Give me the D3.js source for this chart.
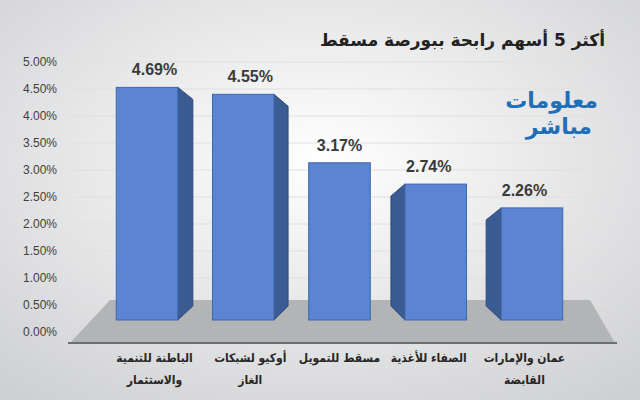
<!DOCTYPE html>
<html><head><meta charset="utf-8">
<script src="https://cdn.jsdelivr.net/npm/d3@7"></script>
<style>body{margin:0}svg{display:block}</style></head>
<body><svg id="c" width="640" height="400"></svg>
<script>
const categories=["الباطنة للتنمية|والاستثمار","أوكيو لشبكات|الغاز","مسقط للتمويل","الصفاء للأغذية","عمان والإمارات|القابضة"];
const values=[4.69,4.55,3.17,2.74,2.26];
const ticks=[0,0.5,1,1.5,2,2.5,3,3.5,4,4.5,5];
const svg=d3.select("#c");
const defs=svg.append("defs");
const g=defs.append("radialGradient").attr("id","bg").attr("cx","50%").attr("cy","40%").attr("r","75%");
g.append("stop").attr("offset","0%").attr("stop-color","#ffffff");
g.append("stop").attr("offset","100%").attr("stop-color","#cfd0d2");
svg.append("rect").attr("width",640).attr("height",400).attr("fill","url(#bg)");
const y=d3.scaleLinear().domain([0,5]).range([332,62]);
const yb=d3.scaleLinear().domain([0,5]).range([320,72]);
const x=d3.scaleBand().domain(d3.range(5)).range([95,580]).paddingInner(0.36).paddingOuter(0.2);
svg.append("g").selectAll("line").data(ticks.slice(1)).join("line")
 .attr("x1",70).attr("x2",610).attr("y1",d=>y(d)).attr("y2",d=>y(d))
 .attr("stroke","#e0e0e0").attr("stroke-width",1);
svg.append("polygon").attr("points","110,300 590,300 615,343 70,343").attr("fill","#b3b4b6");
svg.append("line").attr("x1",68).attr("x2",617).attr("y1",343).attr("y2",343).attr("stroke","#6d6e70").attr("stroke-width",2);
svg.append("g").selectAll("text").data(ticks).join("text")
 .attr("x",57).attr("y",d=>y(d)+4).attr("text-anchor","end")
 .attr("font-family","Liberation Sans, Arial").attr("font-size",12).attr("fill","#404040")
 .text(d=>d.toFixed(2)+"%");
const sides=[15,14,0,-14,-15];
const bars=svg.append("g");
values.forEach((v,i)=>{
 const x0=x(i)+2,w=x.bandwidth(),t=yb(v),b=320,s=sides[i];
 if(s>0) bars.append("polygon").attr("points",`${x0+w},${t} ${x0+w+s},${t+12} ${x0+w+s},${b-14} ${x0+w},${b}`).attr("fill","#3b5b93").attr("stroke","#2e4a7d");
 if(s<0) bars.append("polygon").attr("points",`${x0},${t} ${x0+s},${t+12} ${x0+s},${b-14} ${x0},${b}`).attr("fill","#3b5b93").attr("stroke","#2e4a7d");
 bars.append("rect").attr("x",x0).attr("y",t).attr("width",w).attr("height",b-t).attr("fill","#5b85d0").attr("stroke","#3f66ad");
 bars.append("text").attr("x",x0+w/2+s/2).attr("y",t-12).attr("text-anchor","middle")
  .attr("font-family","Liberation Sans, Arial").attr("font-weight","bold").attr("font-size",16).attr("fill","#3a3a3a")
  .text(v.toFixed(2)+"%");
});
categories.forEach((c,i)=>{
 const cx=x(i)+x.bandwidth()/2+2+sides[i]/2;
 c.split("|").forEach((l,j)=>svg.append("text").attr("x",cx).attr("y",362+j*22).attr("text-anchor","middle")
  .attr("font-family","DejaVu Sans Condensed, DejaVu Sans").attr("font-stretch","condensed").attr("font-weight","bold").attr("font-size",12).attr("fill","#262626").text(l));
});
svg.append("text").attr("x",605).attr("y",46).attr("text-anchor","start").attr("direction","rtl")
 .attr("font-family","DejaVu Sans").attr("font-weight","bold").attr("font-size",17).attr("fill","#222")
 .text("أكثر 5 أسهم رابحة ببورصة مسقط");
svg.append("text").attr("x",598).attr("y",108).attr("text-anchor","start").attr("direction","rtl")
 .attr("font-family","DejaVu Sans").attr("font-weight","bold").attr("font-size",22).attr("fill","#1f6fb8").text("معلومات");
svg.append("text").attr("x",592).attr("y",134).attr("text-anchor","start").attr("direction","rtl")
 .attr("font-family","DejaVu Sans").attr("font-weight","bold").attr("font-size",22).attr("fill","#1f6fb8").text("مباشر");
</script></body></html>
